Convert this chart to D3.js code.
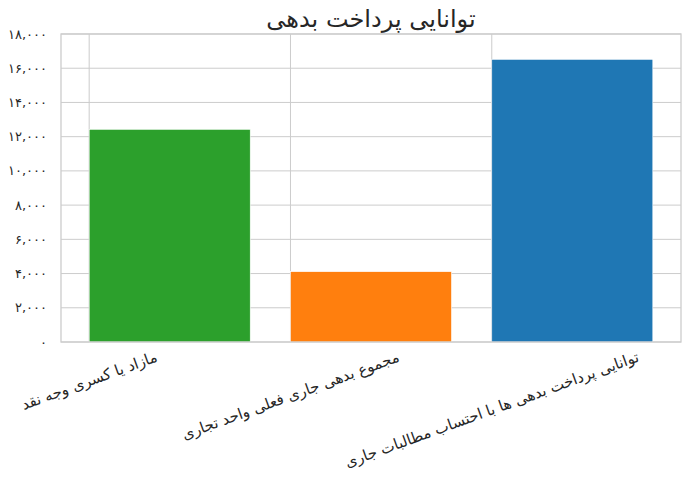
<!DOCTYPE html>
<html><head><meta charset="utf-8">
<script src="https://cdn.jsdelivr.net/npm/d3@7"></script>
<style>body{margin:0;background:#fff}svg{display:block}text{font-family:"DejaVu Sans",sans-serif}</style>
</head><body>
<svg id="c" width="691" height="489"></svg>
<script>
const categories = ["مازاد  یا کسری وجه نقد", "مجموع بدهی جاری فعلی واحد تجاری", "توانایی پرداخت بدهی ها با احتساب مطالبات جاری"];
const values = [12430, 4110, 16520];
const colors = ["#2ca02c", "#ff7f0e", "#1f77b4"];
const yTicks = [0, 2000, 4000, 6000, 8000, 10000, 12000, 14000, 16000, 18000];
const title = "توانایی پرداخت بدهی";

const fa = s => s.replace(/[0-9]/g, d => "۰۱۲۳۴۵۶۷۸۹"[+d]);
const svg = d3.select("#c");
const L = 61, R = 681, T = 34, B = 342;
const x = d3.scaleLinear().domain([-0.14, 2.94]).range([L, R]);
const y = d3.scaleLinear().domain([0, 18000]).range([B, T]);

// grid
svg.append("g").selectAll("line").data(yTicks).join("line")
  .attr("x1", L).attr("x2", R).attr("y1", d => y(d)).attr("y2", d => y(d))
  .attr("stroke", "#cccccc").attr("stroke-width", 1);
svg.append("g").selectAll("line").data(categories).join("line")
  .attr("x1", (d, i) => x(i)).attr("x2", (d, i) => x(i)).attr("y1", T).attr("y2", B)
  .attr("stroke", "#cccccc").attr("stroke-width", 1);

// bars
svg.append("g").selectAll("rect").data(values).join("rect")
  .attr("x", (d, i) => x(i)).attr("width", (d, i) => x(i + 0.8) - x(i))
  .attr("y", d => y(d)).attr("height", d => y(0) - y(d))
  .attr("fill", (d, i) => colors[i]).attr("stroke", "#ffffff").attr("stroke-width", 0.6);

// frame
svg.append("rect").attr("x", L).attr("y", T).attr("width", R - L).attr("height", B - T)
  .attr("fill", "none").attr("stroke", "#cccccc").attr("stroke-width", 1.3);

// y labels
svg.append("g").selectAll("text").data(yTicks).join("text")
  .attr("x", 47).attr("y", d => y(d)).attr("dy", "0.35em")
  .attr("text-anchor", "end").attr("font-size", 13).attr("fill", "#262626")
  .text(d => fa(d3.format(",")(d)));

// x labels: rotated 20deg, bbox centered horizontally on tick, top of bbox below axis
const ang = 20 * Math.PI / 180;
const xl = svg.append("g").selectAll("text").data(categories).join("text")
  .attr("text-anchor", "middle").attr("dy", "0.35em").attr("font-size", 15).attr("fill", "#262626")
  .attr("direction", "rtl")
  .text(d => d);
xl.each(function(d, i) {
  const w = this.getComputedTextLength();
  const h = 15;
  const bh = w * Math.sin(ang) + h * Math.cos(ang);
  d3.select(this).attr("transform", `translate(${x(i)},${349 + bh / 2}) rotate(-20)`);
});

svg.append("text").attr("x", (L + R) / 2).attr("y", 27).attr("text-anchor", "middle")
  .attr("font-size", 24).attr("fill", "#262626").attr("direction", "rtl").text(title);
</script>
</body></html>
